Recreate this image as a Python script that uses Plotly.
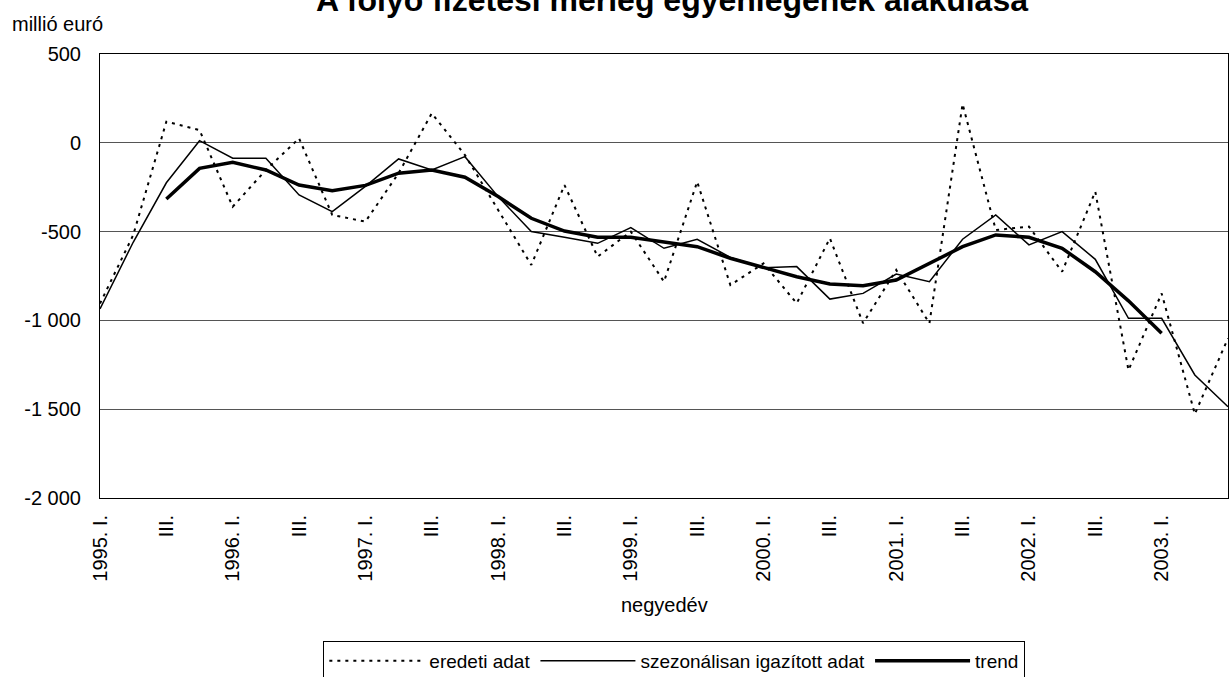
import plotly.graph_objects as go

# ---- data -------------------------------------------------------------
years = [1995, 1996, 1997, 1998, 1999, 2000, 2001, 2002, 2003]
roman = ["I.", "II.", "III.", "IV."]
quarters = [f"{y}. {q}" for y in years for q in roman][:35]  # 1995 Q1 .. 2003 Q3

eredeti = [-905, -520, 119, 72, -360, -153, 25, -406, -444, -171,
           166, -69, -378, -688, -238, -641, -500, -782, -219, -801,
           -679, -904, -538, -1016, -716, -1016, 218, -491, -472, -726,
           -275, -1280, -848, -1527, -1101]

szezonalis = [-935, -560, -225, 12, -87, -87, -294, -388, -245, -91,
              -153, -78, -303, -500, -532, -566, -478, -594, -543, -645,
              -703, -697, -880, -848, -739, -782, -543, -406, -575, -500,
              -656, -988, -988, -1307, -1486]

# trend available from 1995 Q3 to 2003 Q1
trend_start = 2
trend = [-316, -144, -110, -153, -238, -270, -240, -171, -153, -194,
         -303, -425, -497, -532, -532, -557, -585, -650, -703, -754,
         -795, -805, -773, -679, -585, -519, -532, -594, -726, -890,
         -1073]

y_tickvals = [500, 0, -500, -1000, -1500, -2000]
y_ticktext = ["500", "0", "-500", "-1 000", "-1 500", "-2 000"]

title_text = "A folyó fizetési mérleg egyenlegének alakulása"
y_unit = "millió euró"
x_title = "negyedév"

# ---- derived ------------------------------------------------------------
xs = list(range(len(quarters)))
x_tickvals = [i for i, q in enumerate(quarters) if q.endswith(" I.") or q.endswith(" III.")]
x_ticktext = [quarters[i] if quarters[i].endswith(" I.") else "III." for i in x_tickvals]
trend_x = xs[trend_start:trend_start + len(trend)]

FONT = "Liberation Sans, Arial, sans-serif"
FS = 20

fig = go.Figure()
fig.add_trace(go.Scatter(x=xs, y=eredeti, mode="lines", name="eredeti adat",
                         line=dict(color="black", width=2, dash="3px,5px")))
fig.add_trace(go.Scatter(x=xs, y=szezonalis, mode="lines",
                         name="szezonálisan igazított adat",
                         line=dict(color="black", width=1.5)))
fig.add_trace(go.Scatter(x=trend_x, y=trend, mode="lines", name="trend",
                         line=dict(color="black", width=3.5)))

fig.update_layout(
    width=1229, height=677,
    margin=dict(l=100, r=1, t=54, b=179, autoexpand=False),
    paper_bgcolor="white", plot_bgcolor="white",
    font=dict(family=FONT, size=FS, color="black"),
    showlegend=True,
    legend=dict(orientation="h", x=0.198, y=-0.322, xanchor="left", yanchor="top",
                bgcolor="white", bordercolor="black", borderwidth=1,
                font=dict(size=19, family=FONT), itemwidth=95,
                traceorder="normal"),
    xaxis=dict(range=[0, len(xs) - 1], tickmode="array", tickvals=x_tickvals,
               ticktext=x_ticktext, tickangle=-90, ticks="", showgrid=False,
               zeroline=False, showline=True, mirror=True, linecolor="black",
               linewidth=1, ticklabelstandoff=8, tickfont=dict(size=FS)),
    xaxis2=dict(range=[0, len(xs) - 1], overlaying="x", anchor="free",
                position=(0 - y_tickvals[-1]) / (y_tickvals[0] - y_tickvals[-1]),
                tickmode="array", tickvals=xs, ticks="outside", ticklen=5,
                tickcolor="black", tickwidth=1, showticklabels=False,
                showgrid=False, zeroline=False, showline=False),
    yaxis=dict(range=[y_tickvals[-1], y_tickvals[0]], tickmode="array",
               tickvals=y_tickvals, ticktext=y_ticktext, ticks="",
               showgrid=True, gridcolor="#555555", gridwidth=1,
               zeroline=False, showline=True, mirror=True, linecolor="black",
               linewidth=1, ticklabelstandoff=14, tickfont=dict(size=FS)),
    annotations=[
        dict(text=f"<b>{title_text}</b>", xref="paper", yref="paper",
             x=0.507, y=1.1216, xanchor="center", yanchor="middle",
             showarrow=False, font=dict(size=32, family=FONT)),
        dict(text=y_unit, xref="paper", yref="paper", x=-0.0798, y=1.0676,
             xanchor="left", yanchor="middle", showarrow=False,
             font=dict(size=FS, family=FONT)),
        dict(text=x_title, xref="paper", yref="paper", x=0.5, y=-0.241,
             xanchor="center", yanchor="middle", showarrow=False,
             font=dict(size=FS, family=FONT)),
    ],
)

fig.write_html(
    "out.html",
    config={"displayModeBar": False},
    post_script="document.body.style.margin='0';document.body.style.overflow='hidden';",
)
